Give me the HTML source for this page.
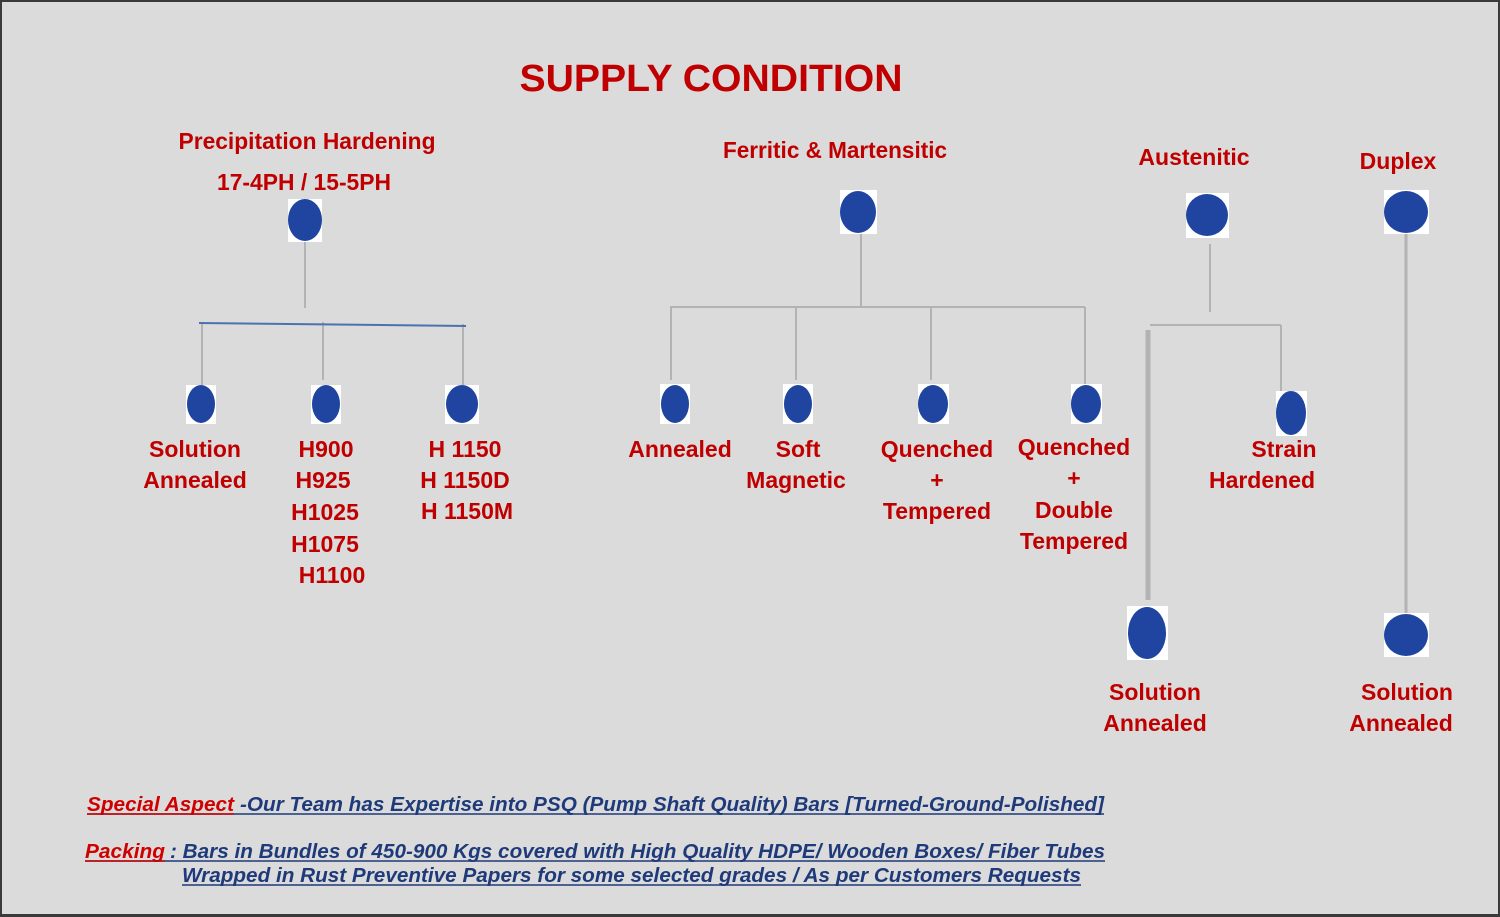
<!DOCTYPE html>
<html><head><meta charset="utf-8"><style>
html,body{margin:0;padding:0;background:#dadbda;}
svg{display:block}
text{font-family:"Liberation Sans",Arial,sans-serif;font-weight:bold;}
</style></head><body>
<svg width="1500" height="917" viewBox="0 0 1500 917" xmlns="http://www.w3.org/2000/svg">
<rect x="0" y="0" width="1500" height="917" fill="#3a3a3a"/>
<rect x="2" y="2" width="1496" height="912" fill="#dadbda"/>
<g stroke="#b3b3b3" stroke-width="2" fill="none">
<line x1="305" y1="242" x2="305" y2="308"/>
<line x1="202" y1="324" x2="202" y2="385"/>
<line x1="323" y1="322" x2="323" y2="380"/>
<line x1="463" y1="324" x2="463" y2="385"/>
<line x1="861" y1="234" x2="861" y2="307"/>
<line x1="670" y1="307" x2="1085" y2="307"/>
<line x1="671" y1="307" x2="671" y2="380"/>
<line x1="796" y1="307" x2="796" y2="380"/>
<line x1="931" y1="307" x2="931" y2="380"/>
<line x1="1085" y1="307" x2="1085" y2="385"/>
<line x1="1210" y1="244" x2="1210" y2="312"/>
<line x1="1150" y1="325" x2="1281" y2="325"/>
<line x1="1281" y1="325" x2="1281" y2="392"/>
<line x1="1148" y1="330" x2="1148" y2="600" stroke-width="5"/>
<line x1="1406" y1="234" x2="1406" y2="613" stroke-width="3"/>
</g>
<line x1="199" y1="323" x2="466" y2="326" stroke="#4a72b0" stroke-width="2"/>
<g fill="#fff">
<rect x="288" y="199" width="34" height="43"/>
<rect x="186" y="385" width="30" height="39"/>
<rect x="311" y="385" width="30" height="39"/>
<rect x="445" y="385" width="34" height="39"/>
<rect x="840" y="190" width="37" height="44"/>
<rect x="660" y="384" width="30" height="40"/>
<rect x="783" y="384" width="30" height="40"/>
<rect x="918" y="384" width="31" height="40"/>
<rect x="1071" y="384" width="31" height="40"/>
<rect x="1186" y="193" width="43" height="45"/>
<rect x="1276" y="391" width="31" height="45"/>
<rect x="1127" y="606" width="41" height="54"/>
<rect x="1384" y="190" width="45" height="44"/>
<rect x="1384" y="613" width="45" height="44"/>
</g>
<g fill="#1f45a0">
<ellipse cx="305" cy="220" rx="17" ry="21"/>
<ellipse cx="201" cy="404" rx="14" ry="19"/>
<ellipse cx="326" cy="404" rx="14" ry="19"/>
<ellipse cx="462" cy="404" rx="16" ry="19"/>
<ellipse cx="858" cy="212" rx="18" ry="21"/>
<ellipse cx="675" cy="404" rx="14" ry="19"/>
<ellipse cx="798" cy="404" rx="14" ry="19"/>
<ellipse cx="933" cy="404" rx="15" ry="19"/>
<ellipse cx="1086" cy="404" rx="15" ry="19"/>
<ellipse cx="1207" cy="215" rx="21" ry="21"/>
<ellipse cx="1291" cy="413" rx="15" ry="22"/>
<ellipse cx="1147" cy="633" rx="19" ry="26"/>
<ellipse cx="1406" cy="212" rx="22" ry="21"/>
<ellipse cx="1406" cy="635" rx="22" ry="21"/>
</g>
<g fill="#c00000" text-anchor="middle" font-size="23">
<text x="711" y="91" font-size="38" textLength="383" lengthAdjust="spacingAndGlyphs">SUPPLY CONDITION</text>
<text x="307" y="149" textLength="257" lengthAdjust="spacingAndGlyphs">Precipitation Hardening</text>
<text x="304" y="190" textLength="174" lengthAdjust="spacingAndGlyphs">17-4PH / 15-5PH</text>
<text x="835" y="158" textLength="224" lengthAdjust="spacingAndGlyphs">Ferritic &amp; Martensitic</text>
<text x="1194" y="165">Austenitic</text>
<text x="1398" y="169">Duplex</text>
<text x="195" y="457">Solution</text>
<text x="195" y="488">Annealed</text>
<text x="326" y="457">H900</text>
<text x="323" y="488">H925</text>
<text x="325" y="520">H1025</text>
<text x="325" y="552">H1075</text>
<text x="332" y="583">H1100</text>
<text x="465" y="457">H 1150</text>
<text x="465" y="488">H 1150D</text>
<text x="467" y="519">H 1150M</text>
<text x="680" y="457">Annealed</text>
<text x="798" y="457">Soft</text>
<text x="796" y="488">Magnetic</text>
<text x="937" y="457">Quenched</text>
<text x="937" y="488">+</text>
<text x="937" y="519">Tempered</text>
<text x="1074" y="455">Quenched</text>
<text x="1074" y="486">+</text>
<text x="1074" y="518">Double</text>
<text x="1074" y="549">Tempered</text>
<text x="1284" y="457">Strain</text>
<text x="1262" y="488">Hardened</text>
<text x="1155" y="700">Solution</text>
<text x="1155" y="731">Annealed</text>
<text x="1407" y="700">Solution</text>
<text x="1401" y="731">Annealed</text>
</g>
<g font-size="20" font-style="italic">
<text x="87" y="811" fill="#d00000" textLength="147" lengthAdjust="spacingAndGlyphs">Special Aspect</text>
<text x="240" y="811" fill="#1f3a7a" textLength="864" lengthAdjust="spacingAndGlyphs">-Our Team has Expertise into PSQ (Pump Shaft Quality) Bars [Turned-Ground-Polished]</text>
<text x="85" y="858" fill="#d00000" textLength="80" lengthAdjust="spacingAndGlyphs">Packing</text>
<text x="170" y="858" fill="#1f3a7a" textLength="935" lengthAdjust="spacingAndGlyphs">: Bars in Bundles of 450-900 Kgs covered with High Quality HDPE/ Wooden Boxes/ Fiber Tubes</text>
<text x="182" y="882" fill="#1f3a7a" textLength="899" lengthAdjust="spacingAndGlyphs">Wrapped in Rust Preventive Papers for some selected grades / As per Customers Requests</text>
</g>
<g stroke-width="1.5">
<line x1="87" y1="814" x2="1104" y2="814" stroke="#1f3a7a"/>
<line x1="87" y1="814" x2="234" y2="814" stroke="#d00000"/>
<line x1="85" y1="861" x2="1105" y2="861" stroke="#1f3a7a"/>
<line x1="85" y1="861" x2="165" y2="861" stroke="#d00000"/>
<line x1="182" y1="885" x2="1081" y2="885" stroke="#1f3a7a"/>
</g>
</svg>
</body></html>
